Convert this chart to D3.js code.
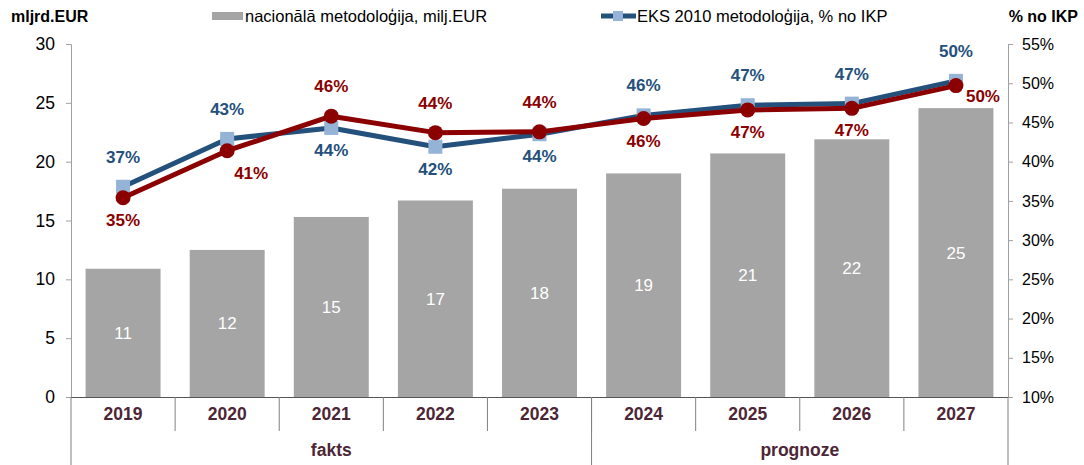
<!DOCTYPE html>
<html><head><meta charset="utf-8">
<script src="https://cdn.jsdelivr.net/npm/d3@7"></script>
<style>body{margin:0;background:#fff}svg{display:block;font-family:"Liberation Sans",Arial,sans-serif}</style>
</head><body><svg id="c" width="1084" height="465"></svg>
<script>
const years = ["2019","2020","2021","2022","2023","2024","2025","2026","2027"];
const barValues = [10.9, 12.5, 15.3, 16.7, 17.7, 19.0, 20.7, 21.9, 24.55];
const barLabels = ["11","12","15","17","18","19","21","22","25"];
const eksValues = [36.8, 42.9, 44.3, 41.9, 43.5, 45.9, 47.2, 47.4, 50.3];
const eksLabels = ["37%","43%","44%","42%","44%","46%","47%","47%","50%"];
const natPctValues = [35.4, 41.4, 45.8, 43.7, 43.8, 45.5, 46.6, 46.8, 49.7];
const natPctLabels = ["35%","41%","46%","44%","44%","46%","47%","47%","50%"];
const groups = [{name:"fakts", from:"2019", to:"2023"},{name:"prognoze", from:"2024", to:"2027"}];
const leftTicks = [0,5,10,15,20,25,30];
const rightTicks = [10,15,20,25,30,35,40,45,50,55];
const legendBar = "nacionālā metodoloģija, milj.EUR";
const legendLine = "EKS 2010 metodoloģija, % no IKP";
const leftTitle = "mljrd.EUR";
const rightTitle = "% no IKP";

const svg = d3.select("#c");
const L = 71, R = 1008, T = 44, B = 397;
const x = d3.scaleBand().domain(years).range([L, R]).paddingInner(0.28).paddingOuter(0.14);
const xb = d3.scaleBand().domain(years).range([L, R]);
const y = d3.scaleLinear().domain([0, 30]).range([B, T]);
const y2 = d3.scaleLinear().domain([10, 55]).range([B, T]);

const blue = "#24507c", blueM = "#95b3d7", red = "#8b0000", catCol = "#4d2636";

// bars
svg.append("g").selectAll("rect").data(years).join("rect")
  .attr("x", d => x(d)).attr("width", x.bandwidth())
  .attr("y", (d,i) => y(barValues[i])).attr("height", (d,i) => y(0) - y(barValues[i]))
  .attr("fill", "#a5a5a5");
svg.append("g").selectAll("text").data(years).join("text")
  .attr("x", d => x(d) + x.bandwidth()/2)
  .attr("y", (d,i) => (y(0) + y(barValues[i]))/2 + 6)
  .attr("text-anchor","middle").attr("fill","#fff").attr("font-size",17)
  .text((d,i) => barLabels[i]);

// left axis
const ga = svg.append("g").attr("transform", `translate(${L},0)`)
  .call(d3.axisLeft(y).tickValues(leftTicks).tickSize(5).tickPadding(11));
ga.select(".domain").attr("stroke","#a0a0a0");
ga.selectAll(".tick line").attr("stroke","#a0a0a0");
ga.selectAll("text").attr("font-size",17.5).attr("fill","#000").attr("font-family","Liberation Sans, Arial");

// right axis
const gr = svg.append("g").attr("transform", `translate(${R},0)`)
  .call(d3.axisRight(y2).tickValues(rightTicks).tickFormat(d => d + "%").tickSize(5).tickPadding(9));
gr.select(".domain").attr("stroke","#a0a0a0");
gr.selectAll(".tick line").attr("stroke","#a0a0a0");
gr.selectAll("text").attr("font-size",16).attr("fill","#000").attr("font-family","Liberation Sans, Arial");

// baseline
svg.append("line").attr("x1", L).attr("x2", R).attr("y1", B+0.5).attr("y2", B+0.5).attr("stroke","#555");

// category separators
const seps = years.slice(1).map(d => xb(d));
svg.append("g").selectAll("line").data(seps).join("line")
  .attr("x1", d => d).attr("x2", d => d).attr("y1", B).attr("y2", 431)
  .attr("stroke","#808080");
const groupEdges = [L, xb("2024"), R];
svg.append("g").selectAll("line").data(groupEdges).join("line")
  .attr("x1", d => d).attr("x2", d => d).attr("y1", B).attr("y2", 465)
  .attr("stroke","#808080");
svg.append("g").selectAll("text").data(years).join("text")
  .attr("x", d => xb(d) + xb.bandwidth()/2).attr("y", 420)
  .attr("text-anchor","middle").attr("font-weight","bold").attr("font-size",17.5).attr("fill",catCol)
  .text(d => d);
svg.append("g").selectAll("text").data(groups).join("text")
  .attr("x", g => (xb(g.from) + xb(g.to) + xb.bandwidth())/2).attr("y", 456)
  .attr("text-anchor","middle").attr("font-weight","bold").attr("font-size",17.5).attr("fill",catCol)
  .text(g => g.name);

const cx = d => xb(d) + xb.bandwidth()/2;

// blue line
svg.append("path").datum(years)
  .attr("d", d3.line().x(d => cx(d)).y((d,i) => y2(eksValues[i])))
  .attr("fill","none").attr("stroke", blue).attr("stroke-width",5).attr("stroke-linejoin","round");
svg.append("g").selectAll("rect").data(years).join("rect")
  .attr("x", d => cx(d) - 7).attr("y", (d,i) => y2(eksValues[i]) - 7)
  .attr("width",14).attr("height",14).attr("fill", blueM);

// red line
svg.append("path").datum(years)
  .attr("d", d3.line().x(d => cx(d)).y((d,i) => y2(natPctValues[i])))
  .attr("fill","none").attr("stroke", red).attr("stroke-width",5).attr("stroke-linejoin","round");
svg.append("g").selectAll("circle").data(years).join("circle")
  .attr("cx", d => cx(d)).attr("cy", (d,i) => y2(natPctValues[i])).attr("r",7.5).attr("fill", red);

// labels: placement offsets
const eksPos = ["a","a","b","b","b","a","a","a","a"];
const natPos = ["b","rb","a","a","a","b","b","b","r"];
function offs(p){
  if (p === "a") return [0, -24];
  if (p === "b") return [0, 28];
  if (p === "rb") return [24, 28];
  if (p === "r") return [27, 16];
}
svg.append("g").selectAll("text").data(years).join("text")
  .attr("x", (d,i) => cx(d) + offs(eksPos[i])[0])
  .attr("y", (d,i) => y2(eksValues[i]) + offs(eksPos[i])[1])
  .attr("text-anchor","middle").attr("font-weight","bold").attr("font-size",17).attr("fill", blue)
  .text((d,i) => eksLabels[i]);
svg.append("g").selectAll("text").data(years).join("text")
  .attr("x", (d,i) => cx(d) + offs(natPos[i])[0])
  .attr("y", (d,i) => y2(natPctValues[i]) + offs(natPos[i])[1])
  .attr("text-anchor","middle").attr("font-weight","bold").attr("font-size",17).attr("fill", red)
  .text((d,i) => natPctLabels[i]);

// titles
svg.append("text").attr("x", 11).attr("y", 22).attr("font-weight","bold").attr("font-size",16).text(leftTitle);
svg.append("text").attr("x", 1078).attr("y", 22).attr("text-anchor","end").attr("font-weight","bold").attr("font-size",16).text(rightTitle);

// legend
svg.append("rect").attr("x", 212).attr("y", 12).attr("width", 31).attr("height", 8).attr("fill","#a5a5a5");
svg.append("text").attr("x", 245).attr("y", 22).attr("font-size",16.5).attr("fill","#000").text(legendBar);
svg.append("line").attr("x1", 601).attr("x2", 636).attr("y1", 16).attr("y2", 16).attr("stroke", blue).attr("stroke-width",5);
svg.append("rect").attr("x", 613).attr("y", 11).attr("width", 10).attr("height", 10).attr("fill", blueM);
svg.append("text").attr("x", 637).attr("y", 22).attr("font-size",16.5).attr("fill","#000").text(legendLine);
</script></body></html>
